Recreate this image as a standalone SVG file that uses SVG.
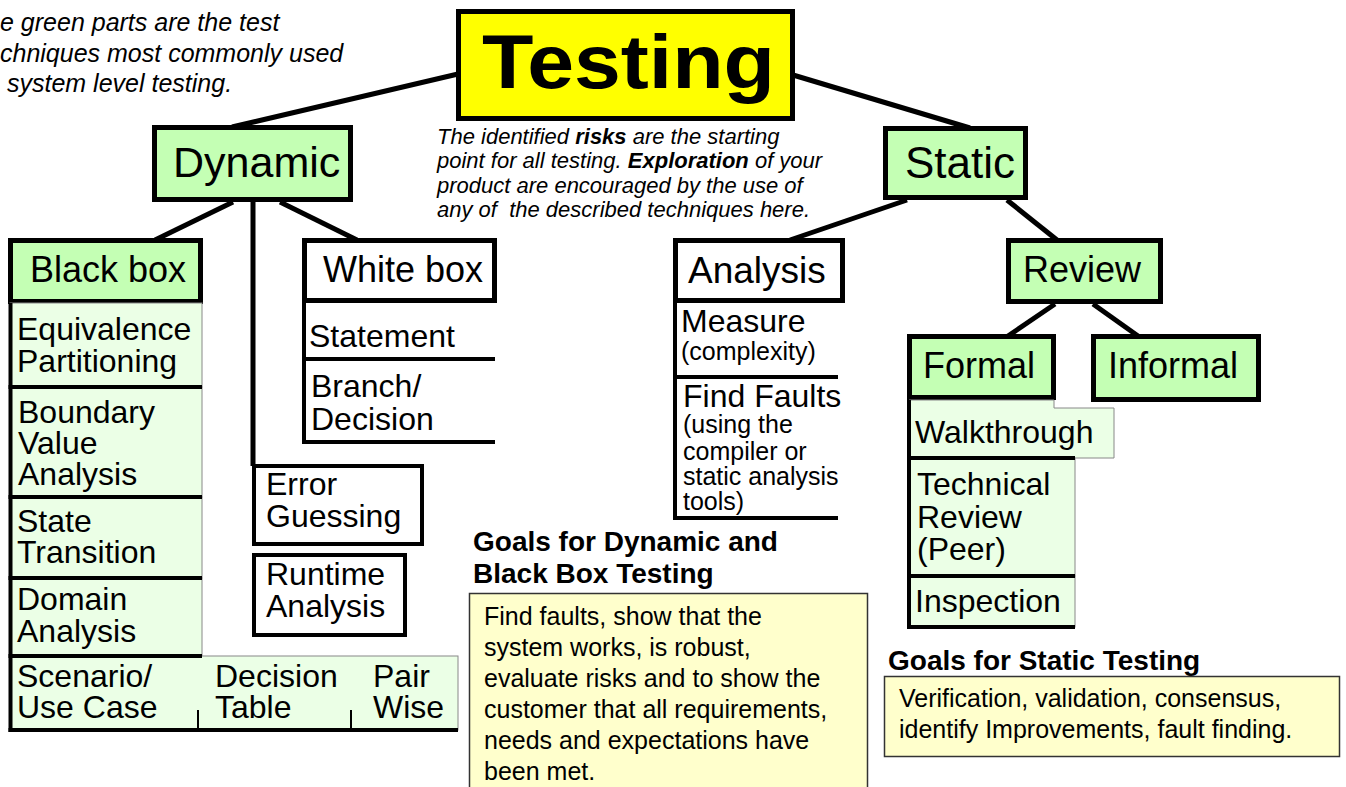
<svg xmlns="http://www.w3.org/2000/svg" width="1346" height="787" viewBox="0 0 1346 787">
<style>
text{font-family:"Liberation Sans",Arial,sans-serif;fill:#000}
.node{stroke:#000;stroke-width:5}
.g{fill:#c4ffb4}
.w{fill:#fff}
.cell{fill:#ebffe6;stroke:#888;stroke-width:1}
.thick{stroke:#000;stroke-width:4;fill:none}
.conn{stroke:#000;stroke-width:5;fill:none}
.t36{font-size:36px}
.t33{font-size:32px}
.t25{font-size:25px}
.note{font-size:22px;font-style:italic}
.goal{font-size:28px;font-weight:bold}
.yb{fill:#ffffcc;stroke:#333;stroke-width:1.5}
</style>
<rect width="1346" height="787" fill="#fff"/>

<g id="connectors">
<line class="conn" x1="458" y1="74" x2="232" y2="127"/>
<line class="conn" x1="793" y1="75" x2="970" y2="128"/>
<line class="conn" x1="233" y1="202" x2="155" y2="240"/>
<line class="conn" x1="253" y1="202" x2="253" y2="466"/>
<line class="conn" x1="280" y1="202" x2="357" y2="240"/>
<line class="conn" x1="907" y1="200" x2="790" y2="240"/>
<line class="conn" x1="1007" y1="200" x2="1057" y2="240"/>
<line class="conn" x1="1055" y1="304" x2="1008" y2="336"/>
<line class="conn" x1="1093" y1="304" x2="1138" y2="336"/>
</g>

<g id="note-green">
<text class="note" style="font-size:25px" x="0" y="31">e green parts are the test</text>
<text class="note" style="font-size:25px" x="0" y="62">chniques most commonly used</text>
<text class="note" style="font-size:25px" x="7" y="92">system level testing.</text>
</g>

<g id="testing">
<rect class="node" x="458.5" y="11.5" width="334" height="107" fill="#ffff00"/>
<text x="482" y="88" font-size="76" font-weight="bold" textLength="293" lengthAdjust="spacingAndGlyphs">Testing</text>
</g>

<g id="note-risks">
<text class="note" x="437" y="144">The identified <tspan font-weight="bold">risks</tspan> are the starting</text>
<text class="note" x="437" y="168">point for all testing. <tspan font-weight="bold">Exploration</tspan> of your</text>
<text class="note" x="437" y="193">product are encouraged by the use of</text>
<text class="note" x="437" y="217">any of&#160; the described techniques here.</text>
</g>

<g id="dynamic">
<rect class="node g" x="154.5" y="127.5" width="196" height="72"/>
<text x="173" y="177" font-size="43">Dynamic</text>
</g>

<g id="static">
<rect class="node g" x="885.5" y="128.5" width="140" height="69"/>
<text x="905" y="178" font-size="44">Static</text>
</g>

<g id="blackbox">
<rect class="node g" x="10.5" y="240.5" width="190" height="61"/>
<text class="t36" x="30" y="282">Black box</text>
</g>

<g id="blackbox-techniques">
<rect class="cell" x="10" y="303" width="192" height="84"/>
<rect class="cell" x="10" y="387" width="192" height="110"/>
<rect class="cell" x="10" y="497" width="192" height="81"/>
<rect class="cell" x="10" y="578" width="192" height="78"/>
<rect class="cell" x="10" y="656" width="448" height="74"/>
<line class="thick" x1="10.5" y1="303" x2="10.5" y2="732"/>
<line class="thick" x1="8.5" y1="387" x2="202" y2="387"/>
<line class="thick" x1="8.5" y1="497" x2="202" y2="497"/>
<line class="thick" x1="8.5" y1="578" x2="202" y2="578"/>
<line class="thick" x1="8.5" y1="656" x2="202" y2="656"/>
<line class="thick" x1="8.5" y1="730" x2="458" y2="730"/>
<line stroke="#000" stroke-width="2" x1="198" y1="710" x2="198" y2="730"/>
<line stroke="#000" stroke-width="2" x1="351" y1="710" x2="351" y2="730"/>
<text class="t33" x="17" y="340">Equivalence</text>
<text class="t33" x="17" y="372">Partitioning</text>
<text class="t33" x="18" y="423">Boundary</text>
<text class="t33" x="18" y="454">Value</text>
<text class="t33" x="18" y="485">Analysis</text>
<text class="t33" x="17" y="532">State</text>
<text class="t33" x="17" y="563">Transition</text>
<text class="t33" x="17" y="610">Domain</text>
<text class="t33" x="17" y="642">Analysis</text>
<text class="t33" x="17" y="687">Scenario/</text>
<text class="t33" x="17" y="718">Use Case</text>
<text class="t33" x="215" y="687">Decision</text>
<text class="t33" x="215" y="718">Table</text>
<text class="t33" x="373" y="687">Pair</text>
<text class="t33" x="373" y="718">Wise</text>
</g>

<g id="whitebox">
<rect class="node w" x="304.5" y="240.5" width="190" height="60"/>
<text class="t36" x="323" y="282">White box</text>
</g>

<g id="whitebox-techniques">
<line class="thick" x1="304" y1="303" x2="304" y2="444"/>
<line class="thick" x1="302" y1="359" x2="495" y2="359"/>
<line class="thick" x1="302" y1="442" x2="495" y2="442"/>
<text class="t33" x="309" y="347">Statement</text>
<text class="t33" x="311" y="397">Branch/</text>
<text class="t33" x="311" y="430">Decision</text>
</g>

<g id="error-guessing">
<rect x="254" y="466" width="168" height="78" fill="#fff" stroke="#000" stroke-width="4"/>
<text class="t33" x="266" y="495">Error</text>
<text class="t33" x="266" y="527">Guessing</text>
</g>

<g id="runtime-analysis">
<rect x="254" y="555" width="151" height="80" fill="#fff" stroke="#000" stroke-width="4"/>
<text class="t33" x="266" y="585">Runtime</text>
<text class="t33" x="266" y="617">Analysis</text>
</g>

<g id="analysis">
<rect class="node w" x="675.5" y="240.5" width="167" height="60"/>
<text x="688" y="283" font-size="37">Analysis</text>
</g>

<g id="analysis-techniques">
<line class="thick" x1="675" y1="303" x2="675" y2="520"/>
<line class="thick" x1="673" y1="377" x2="838" y2="377"/>
<line class="thick" x1="673" y1="518" x2="838" y2="518"/>
<text class="t33" x="681" y="332">Measure</text>
<text class="t25" x="681" y="360">(complexity)</text>
<text class="t33" x="683" y="407">Find Faults</text>
<text class="t25" x="683" y="433">(using the</text>
<text class="t25" x="683" y="460">compiler or</text>
<text class="t25" x="683" y="485">static analysis</text>
<text class="t25" x="683" y="510">tools)</text>
</g>

<g id="review">
<rect class="node g" x="1008.5" y="240.5" width="152" height="61"/>
<text class="t36" x="1023" y="282">Review</text>
</g>

<g id="formal">
<rect class="node g" x="909.5" y="336.5" width="144" height="61"/>
<text class="t36" x="923" y="378">Formal</text>
</g>

<g id="informal">
<rect class="node g" x="1093.5" y="336.5" width="165" height="63"/>
<text class="t36" x="1108" y="378">Informal</text>
</g>

<g id="formal-techniques">
<path d="M909,400 H1054 V408 H1114 V458 H909 Z" fill="#ebffe6" stroke="#888" stroke-width="1"/>
<rect class="cell" x="909" y="458" width="166" height="118"/>
<rect class="cell" x="909" y="576" width="166" height="51"/>
<line class="thick" x1="909" y1="400" x2="909" y2="629"/>
<line class="thick" x1="907" y1="458" x2="1075" y2="458"/>
<line class="thick" x1="907" y1="576" x2="1075" y2="576"/>
<line class="thick" x1="907" y1="627" x2="1075" y2="627"/>
<text class="t33" x="915" y="443">Walkthrough</text>
<text class="t33" x="917" y="495">Technical</text>
<text class="t33" x="917" y="528">Review</text>
<text class="t33" x="917" y="560">(Peer)</text>
<text class="t33" x="915" y="612">Inspection</text>
</g>

<g id="goals-dynamic">
<text class="goal" x="473" y="551">Goals for Dynamic and</text>
<text class="goal" x="473" y="583">Black Box Testing</text>
<rect class="yb" x="469.5" y="593.5" width="398" height="200"/>
<text class="t25" x="484" y="625">Find faults, show that the</text>
<text class="t25" x="484" y="656">system works, is robust,</text>
<text class="t25" x="484" y="687">evaluate risks and to show the</text>
<text class="t25" x="484" y="718">customer that all requirements,</text>
<text class="t25" x="484" y="749">needs and expectations have</text>
<text class="t25" x="484" y="780">been met.</text>
</g>

<g id="goals-static">
<text class="goal" x="888" y="670">Goals for Static Testing</text>
<rect class="yb" x="884.5" y="676.5" width="455" height="80"/>
<text class="t25" x="899" y="707">Verification, validation, consensus,</text>
<text class="t25" x="899" y="738">identify Improvements, fault finding.</text>
</g>
</svg>
